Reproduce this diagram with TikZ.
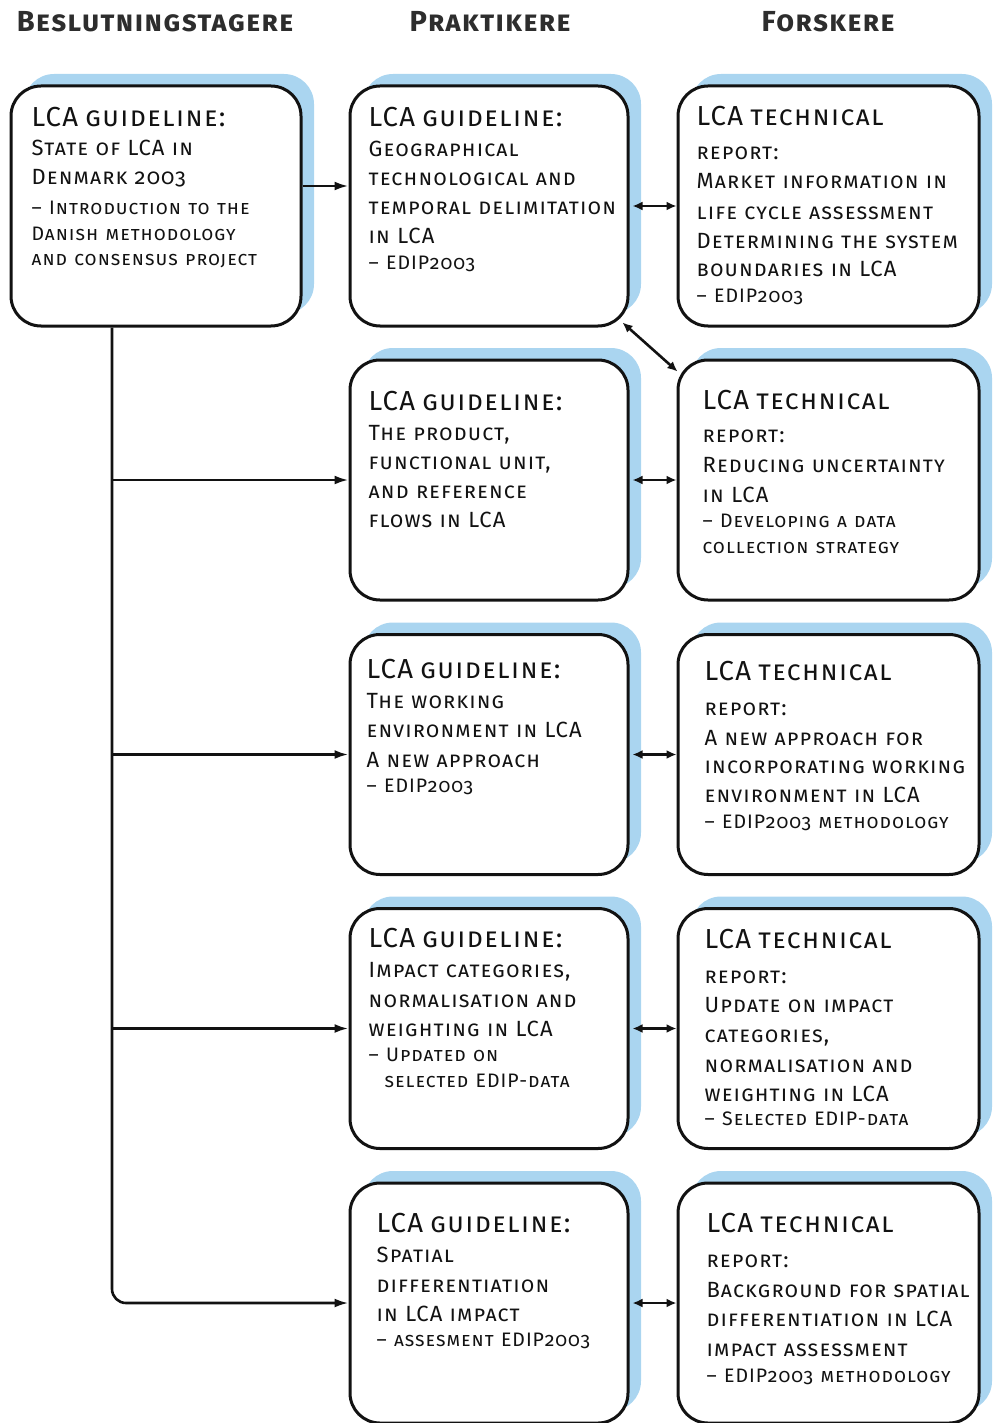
\documentclass[tikz,border=0pt]{standalone}
\usepackage{fontspec}
\setmainfont{Fira Sans}[Numbers=OldStyle, LetterSpace=5]
\usetikzlibrary{shadows,arrows.meta}
\definecolor{shblue}{RGB}{170,213,240}
\definecolor{ink}{RGB}{18,18,18}
\definecolor{headgray}{RGB}{45,45,45}
\newcommand\TTs{\fontsize{27.5}{29}\selectfont}
\newcommand\DDs{\fontsize{19.5}{29}\selectfont}
\tikzset{
  card/.style={draw=ink, line width=3pt, fill=white, rounded corners=30pt,
    general shadow={fill=shblue, shadow xshift=13pt, shadow yshift=12pt}, inner sep=0pt},
  leftcard/.style={card, minimum width=290pt, minimum height=240pt},
  midcard/.style={card, minimum width=278pt, minimum height=240pt},
  rightcard/.style={card, minimum width=301pt, minimum height=240pt},
  txt/.style={anchor=base west, inner sep=0pt, text width=330pt, align=left,
    font=\fontsize{22}{29}\selectfont\scshape, text=ink},
  head/.style={anchor=base, inner sep=0pt, font=\fontsize{29}{34}\selectfont\bfseries\scshape, text=headgray},
  link/.style={line width=2.6pt, draw=ink, -{Latex[length=14pt,width=9pt]}},
  dbl/.style={line width=2.6pt, draw=ink, {Latex[length=10pt,width=9pt]}-{Latex[length=10pt,width=9pt]}},
}
\begin{document}
\begin{tikzpicture}[x=1pt,y=-1pt]
\useasboundingbox (0,0) rectangle (993,1423);
% headers
\node[head] (h1) at (155,32) {Beslutningstagere};
\node[head] (h2) at (490,32) {Praktikere};
\node[head] (h3) at (828,32) {Forskere};
% boxes
\node[leftcard] (b1) at (156,206) {};
\node[midcard] (m1) at (489,206) {};
\node[rightcard] (r1) at (828.5,206) {};
\node[midcard] (m2) at (489,480) {};
\node[rightcard] (r2) at (828.5,480) {};
\node[midcard] (m3) at (489,754.5) {};
\node[rightcard] (r3) at (828.5,754.5) {};
\node[midcard] (m4) at (489,1028.5) {};
\node[rightcard] (r4) at (828.5,1028.5) {};
\node[midcard] (m5) at (489,1303) {};
\node[rightcard] (r5) at (828.5,1303) {};
% texts
\node[txt] (tb1) at ([shift={(22,42)}]b1.north west) {{\TTs LCA guideline:}\\
State of LCA in\\
Denmark 2003\\[1pt]
{\DDs – Introduction to the}\\[-3pt]
{\DDs Danish methodology}\\[-4pt]
{\DDs and consensus project}};
\node[txt] (tm1) at ([shift={(20,42)}]m1.north west) {{\TTs LCA guideline:}\\[1pt]
Geographical\\
technological and\\
temporal delimitation\\
in LCA\\[-3pt]
{\DDs – EDIP2003}};
\node[txt] (tr1) at ([shift={(20,41)}]r1.north west) {{\TTs LCA technical}\\[5pt]
report:\\
Market information in\\[2pt]
life cycle assessment\\
Determining the system\\[-1pt]
boundaries in LCA\\[-3pt]
{\DDs – EDIP2003}};
\node[txt] (tm2) at ([shift={(20,52)}]m2.north west) {{\TTs LCA guideline:}\\[1pt]
The product,\\
functional unit,\\
and reference\\
flows in LCA};
\node[txt] (tr2) at ([shift={(26,51)}]r2.north west) {{\TTs LCA technical}\\[4pt]
report:\\[1pt]
Reducing uncertainty\\[1pt]
in LCA\\[-4pt]
{\DDs – Developing a data}\\[-3pt]
{\DDs collection strategy}};
\node[txt] (tm3) at ([shift={(18,45)}]m3.north west) {{\TTs LCA guideline:}\\[1pt]
The working\\
environment in LCA\\[1pt]
A new approach\\[-4pt]
{\DDs – EDIP2003}};
\node[txt] (tr3) at ([shift={(28,47)}]r3.north west) {{\TTs LCA technical}\\[6pt]
report:\\[1pt]
A new approach for\\[-1pt]
incorporating working\\
environment in LCA\\[-3pt]
{\DDs – EDIP2003 methodology}};
\node[txt] (tm4) at ([shift={(20,40)}]m4.north west) {{\TTs LCA guideline:}\\[1pt]
Impact categories,\\[1pt]
normalisation and\\
weighting in LCA\\[-4pt]
{\DDs – Updated on}\\[-3pt]
{\DDs\hspace*{16pt}selected EDIP-data}};
\node[txt] (tr4) at ([shift={(28,41)}]r4.north west) {{\TTs LCA technical}\\[6pt]
report:\\
Update on impact\\[1pt]
categories,\\[1pt]
normalisation and\\
weighting in LCA\\[-5pt]
{\DDs – Selected EDIP-data}};
\node[txt] (tm5) at ([shift={(28,51)}]m5.north west) {{\TTs LCA guideline:}\\[1pt]
Spatial\\[1pt]
differentiation\\
in LCA impact\\[-4pt]
{\DDs – assesment EDIP2003}};
\node[txt] (tr5) at ([shift={(30,51)}]r5.north west) {{\TTs LCA technical}\\[6pt]
report:\\[1pt]
Background for spatial\\
differentiation in LCA\\[1pt]
impact assessment\\[-3pt]
{\DDs – EDIP2003 methodology}};
% connectors
\coordinate (tk) at ([xshift=-44pt]b1.south);
\draw[link] ([yshift=20pt]b1.east) -- ([yshift=20pt]m1.west);
\draw[link, rounded corners=14pt] (tk) -- (tk |- m5.west) -- (m5.west);
\draw[link] (tk |- m2.west) -- (m2.west);
\draw[link] (tk |- m3.west) -- (m3.west);
\draw[link] (tk |- m4.west) -- (m4.west);
\draw[dbl, shorten <=3pt] (m1.east) -- (r1.west);
\draw[dbl, shorten <=3pt] (m2.east) -- (r2.west);
\draw[dbl, shorten <=3pt] (m3.east) -- (r3.west);
\draw[dbl, shorten <=3pt] (m4.east) -- (r4.west);
\draw[dbl, shorten <=3pt] (m5.east) -- (r5.west);
\draw[dbl] ([xshift=-7pt,yshift=5pt]m1.south east) -- ([xshift=1pt,yshift=-13pt]r2.north west);
\end{tikzpicture}
\end{document}
